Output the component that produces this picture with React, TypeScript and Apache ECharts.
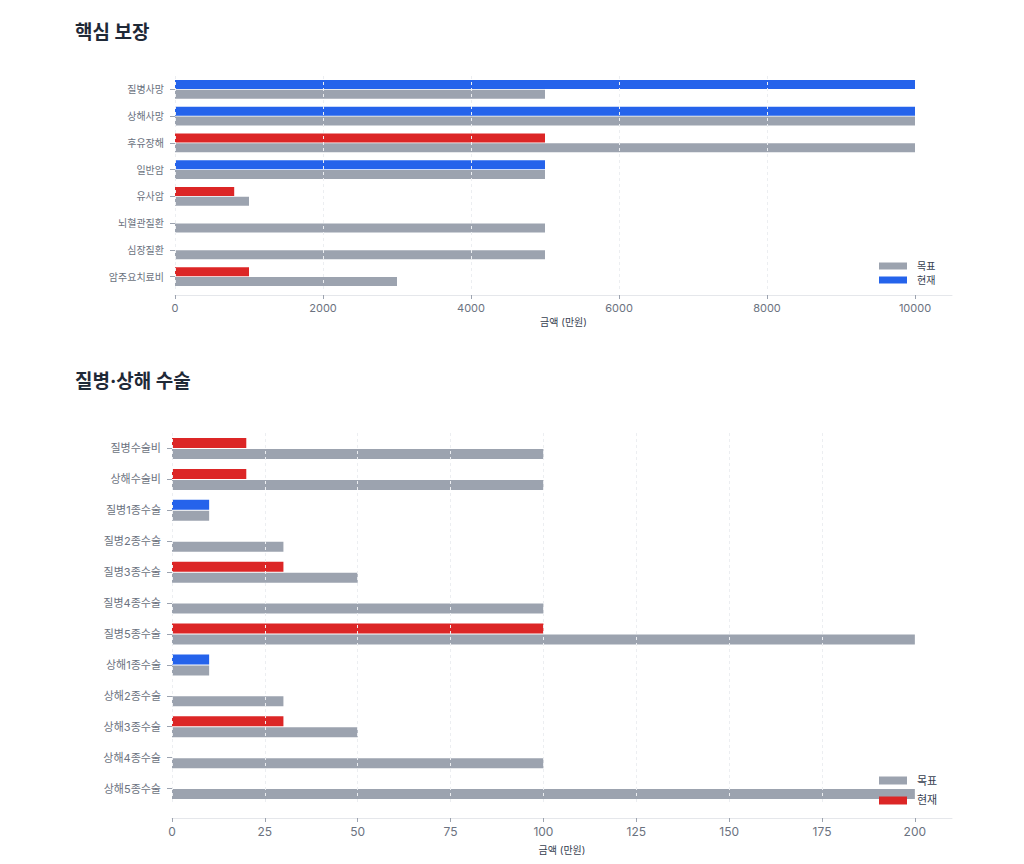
import React, { useEffect, useRef } from 'react';
import * as echarts from 'echarts';

const coreCategories = ['질병사망', '상해사망', '후유장해', '일반암', '유사암', '뇌혈관질환', '심장질환', '암주요치료비'];
const coreTarget = [5000, 10000, 10000, 5000, 1000, 5000, 5000, 3000];
const coreCurrent = [10000, 10000, 5000, 5000, 800, 0, 0, 1000];
const coreTicks = [0, 2000, 4000, 6000, 8000, 10000];

const surgeryCategories = [
	'질병수술비', '상해수술비', '질병1종수술', '질병2종수술', '질병3종수술', '질병4종수술',
	'질병5종수술', '상해1종수술', '상해2종수술', '상해3종수술', '상해4종수술', '상해5종수술',
];
const surgeryTarget = [100, 100, 10, 30, 50, 100, 200, 10, 30, 50, 100, 200];
const surgeryCurrent = [20, 20, 10, 0, 30, 0, 100, 10, 0, 30, 0, 0];
const surgeryTicks = [0, 25, 50, 75, 100, 125, 150, 175, 200];

const GRAY = '#9ca3af';
const BLUE = '#2563eb';
const RED = '#dc2626';
const FONT = 'Inter, "Noto Sans CJK KR", sans-serif';

const App: React.FC = () => {
	const chartContainer = useRef<HTMLDivElement | null>(null);

	useEffect(() => {
		document.body.style.margin = '0';
		if (!chartContainer.current) return;
		const chart = echarts.init(chartContainer.current, null, { renderer: 'svg' });

		// 현재 bar is blue when it meets the target, red otherwise
		const currentColor = (cur: number[], tgt: number[]) => (p: any) =>
			cur[p.dataIndex] >= tgt[p.dataIndex] ? BLUE : RED;

		const xAxisBase = (max: number, interval: number, ticks: number[], gridIndex: number, offset: number, nameGap: number, labelSize: number) => ({
			type: 'value',
			gridIndex,
			min: 0,
			max,
			interval,
			offset,
			z: 3,
			name: '금액 (만원)',
			nameLocation: 'middle',
			nameGap,
			nameTextStyle: { fontSize: 10, color: '#374151', fontFamily: FONT },
			axisLine: { show: true, lineStyle: { color: '#e5e7eb' } },
			axisTick: { show: true, length: 4, lineStyle: { color: '#9ca3af' }, customValues: ticks },
			axisLabel: {
				fontSize: labelSize,
				color: '#6b7280',
				margin: 7,
				fontFamily: FONT,
				customValues: ticks,
				formatter: (v: number) => String(v),
			},
			splitLine: {
				show: true,
				showMaxLine: false,
				lineStyle: { color: '#eceef1', type: [3, 3] },
			},
		});

		const yAxisBase = (data: string[], gridIndex: number, fontSize: number) => ({
			type: 'category',
			gridIndex,
			data,
			inverse: true,
			axisLine: { show: false },
			axisTick: { show: true, length: 5, alignWithLabel: true, lineStyle: { color: '#9ca3af' } },
			axisLabel: { fontSize, color: '#6b7280', margin: 11, fontFamily: FONT },
			splitLine: { show: false },
		});

		const titleStyle = { fontSize: 19, fontWeight: 'bold', color: '#1f2937', fontFamily: FONT };

		const option: any = {
			animation: false,
			textStyle: { fontFamily: FONT },
			title: [
				{ text: '핵심 보장', left: 75, top: 23, padding: 0, textStyle: titleStyle },
				{ text: '질병·상해 수술', left: 75, top: 372, padding: 0, textStyle: titleStyle },
			],
			legend: [
				{
					orient: 'vertical',
					left: 879,
					top: 261,
					padding: 0,
					itemWidth: 28,
					itemHeight: 7,
					itemGap: 4,
					icon: 'rect',
					textStyle: { fontSize: 10, color: '#374151', fontFamily: FONT, padding: [0, 0, 0, 5] },
					data: [
						{ name: '목표', itemStyle: { color: GRAY } },
						{ name: '현재', itemStyle: { color: BLUE } },
					],
				},
				{
					orient: 'vertical',
					left: 879,
					top: 775,
					padding: 0,
					itemWidth: 28,
					itemHeight: 8,
					itemGap: 9,
					icon: 'rect',
					textStyle: { fontSize: 11, color: '#374151', fontFamily: FONT, padding: [0, 0, 0, 5] },
					data: [
						{ name: '목표', itemStyle: { color: GRAY } },
						{ name: '현재', itemStyle: { color: RED } },
					],
				},
			],
			grid: [
				{ left: 175, right: 72, top: 76, height: 214 },
				{ left: 172, right: 72, top: 433, height: 371 },
			],
			xAxis: [
				xAxisBase(10500, 2000, coreTicks, 0, 5, 22, 11),
				xAxisBase(210, 25, surgeryTicks, 1, 14, 27, 12),
			],
			yAxis: [yAxisBase(coreCategories, 0, 10), yAxisBase(surgeryCategories, 1, 11)],
			series: [
				{
					name: '현재', type: 'bar', xAxisIndex: 0, yAxisIndex: 0, data: coreCurrent,
					barWidth: 9, barGap: '11%', itemStyle: { color: currentColor(coreCurrent, coreTarget) },
				},
				{
					name: '목표', type: 'bar', xAxisIndex: 0, yAxisIndex: 0, data: coreTarget,
					barWidth: 9, barGap: '11%', itemStyle: { color: GRAY },
				},
				{
					name: '현재', type: 'bar', xAxisIndex: 1, yAxisIndex: 1, data: surgeryCurrent,
					barWidth: 10, barGap: '10%', itemStyle: { color: currentColor(surgeryCurrent, surgeryTarget) },
				},
				{
					name: '목표', type: 'bar', xAxisIndex: 1, yAxisIndex: 1, data: surgeryTarget,
					barWidth: 10, barGap: '10%', itemStyle: { color: GRAY },
				},
			],
		};

		chart.setOption(option);

		return () => {
			chart.dispose();
		};
	}, []);

	return <div ref={chartContainer} style={{ width: '1024px', height: '864px' }} />;
};

export default App;
